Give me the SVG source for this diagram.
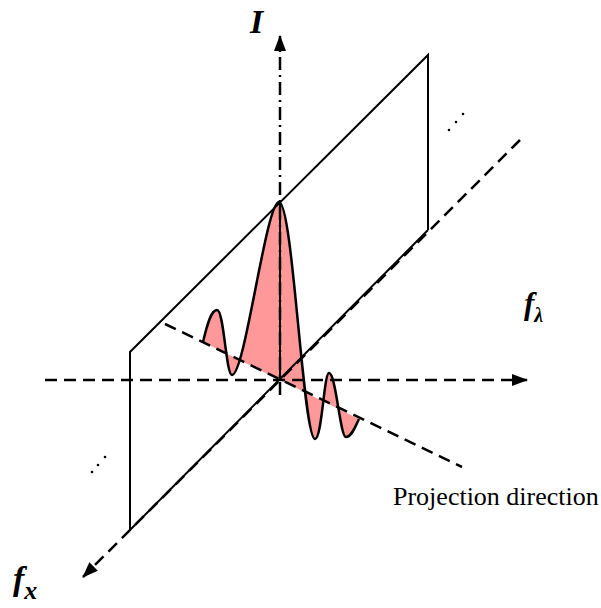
<svg xmlns="http://www.w3.org/2000/svg" width="601" height="608" viewBox="0 0 601 608">
<style>
.solid{stroke:#000;stroke-width:2;fill:none}
.dash{stroke:#000;stroke-width:2.5;fill:none;stroke-dasharray:12,7}
.dashdot{stroke:#000;stroke-width:2.5;fill:none;stroke-dasharray:13,5,2,5}
.lbl{font-family:"Liberation Serif","Times New Roman",serif;font-weight:bold;font-style:italic;fill:#000}
.txt{font-family:"Liberation Serif","Times New Roman",serif;fill:#000}
</style>
<defs>
<marker id="arr" viewBox="0 0 16 12" refX="15" refY="6" markerWidth="16" markerHeight="12" markerUnits="userSpaceOnUse" orient="auto">
<path d="M0,0 L16,6 L0,12 Z" fill="#000"/>
</marker>
</defs>
<rect width="601" height="608" fill="#fff"/>
<g id="curve">
<path d="M203,342 C207,325 211,310 217,310 C224,310 226,375 232,375 C245,375 266,202 279,202 C293,202 303,439 315,439 C322,439 324,373 329,373 C336,373 340,437 346,437 C352,437 356,425 359,419 L203,342 Z" fill="#ff9999" stroke="none"/>
</g>
<g id="connectors">
<line class="dash" x1="45" y1="380" x2="527" y2="380" marker-end="url(#arr)"/>
<line class="dash" x1="520" y1="140" x2="83" y2="577" marker-end="url(#arr)"/>
<line class="dashdot" x1="280" y1="395" x2="280" y2="36" marker-end="url(#arr)"/>
<line class="dash" x1="165" y1="324" x2="462" y2="467"/>
</g>
<g id="plane">
<path class="solid" d="M130,530 L130,352 L428,55 L428,230"/>
<line class="solid" x1="130" y1="530" x2="428" y2="230"/>
</g>
<g id="signal">
<path d="M203,342 C207,325 211,310 217,310 C224,310 226,375 232,375 C245,375 266,202 279,202 C293,202 303,439 315,439 C322,439 324,373 329,373 C336,373 340,437 346,437 C352,437 356,425 359,419" fill="none" stroke="#000" stroke-width="2.5"/>
<line class="solid" x1="280" y1="202" x2="280" y2="380"/>
</g>
<g id="dots" fill="#000">
<circle cx="449" cy="130" r="1.3"/><circle cx="456" cy="122" r="1.3"/><circle cx="463" cy="114" r="1.3"/>
<circle cx="92" cy="472" r="1.3"/><circle cx="98" cy="465" r="1.3"/><circle cx="105" cy="457" r="1.3"/>
</g>
<g id="labels">
<text class="lbl" x="250" y="33" font-size="34">I</text>
<text class="lbl" x="524" y="314" font-size="31">f<tspan font-size="20" dy="8">λ</tspan></text>
<text class="lbl" x="13" y="590" font-size="34">f<tspan font-size="26" dy="9">x</tspan></text>
<text class="txt" x="393" y="505" font-size="26">Projection direction</text>
</g>
</svg>
